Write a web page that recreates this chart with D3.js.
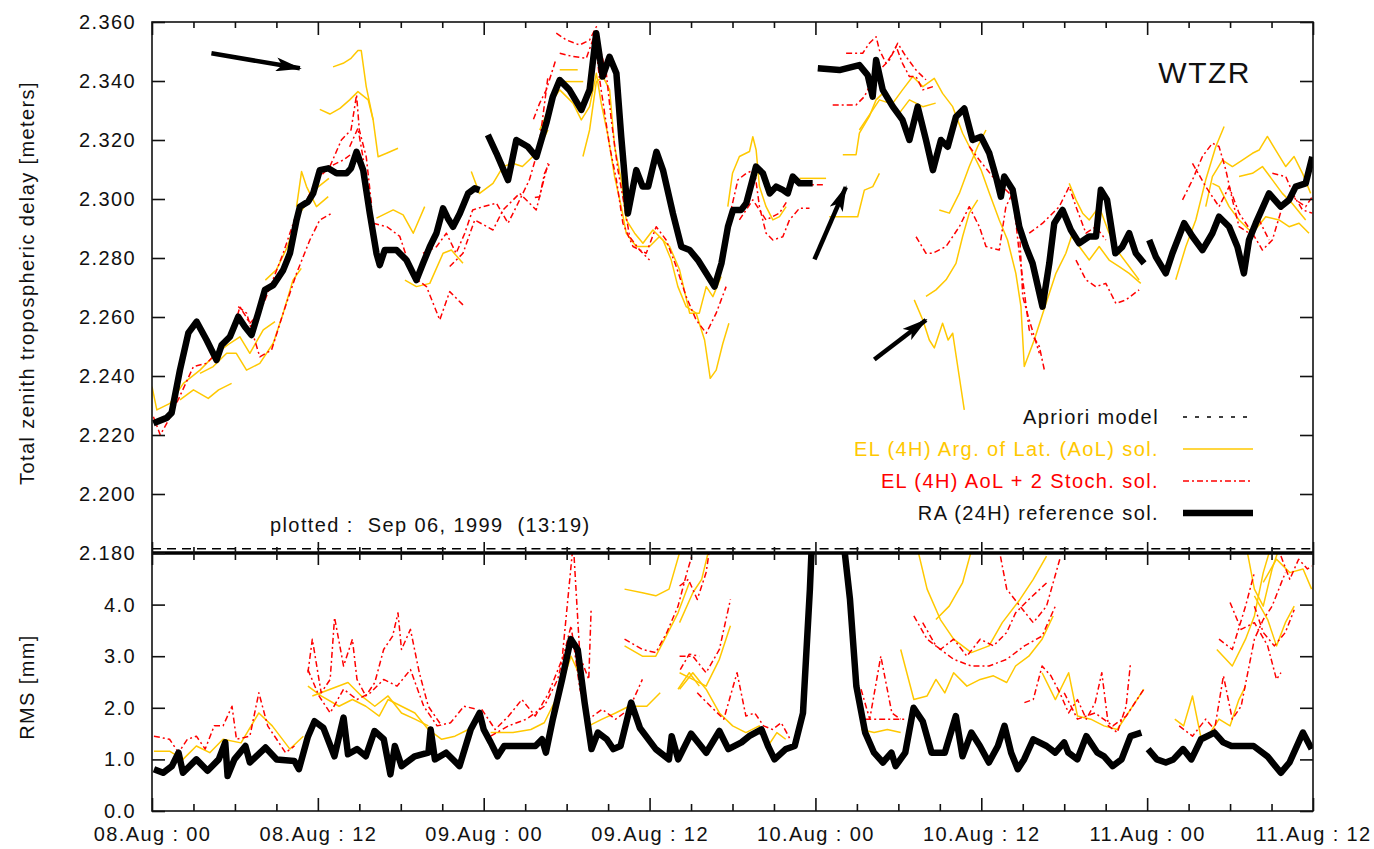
<!DOCTYPE html>
<html>
<head>
<meta charset="utf-8">
<script src="https://cdn.jsdelivr.net/npm/d3@7"></script>
<style>
  body { margin: 0; background: #fff; }
  svg { display: block; font-family: "Liberation Sans", Arial, Helvetica, sans-serif; }
  .lbl { font-size: 20px; letter-spacing: 1.4px; fill: #111; }
</style>
</head>
<body>
<svg id="chart" width="1374" height="849"></svg>
<script>
// hours since 08.Aug 00:00
const xMajorHours = [0, 12, 24, 36, 48, 60, 72, 84]
const xTickLabels = ['08.Aug : 00', '08.Aug : 12', '09.Aug : 00', '09.Aug : 12',
  '10.Aug : 00', '10.Aug : 12', '11.Aug : 00', '11.Aug : 12']
const delayTicks = [2.18, 2.20, 2.22, 2.24, 2.26, 2.28, 2.30, 2.32, 2.34, 2.36]
const rmsTicks = [0, 1, 2, 3, 4]

// RA (24H) reference solution, [hour, meters]
const raDelay = [
  [[0.1,2.224],[1.06,2.2258],[1.42,2.2275],[2.02,2.242],[2.63,2.2546],[3.23,2.2584],[3.95,2.2522],[4.67,2.2454],[5.04,2.2505],[5.64,2.2533],[6.24,2.2601],[6.72,2.2567],[7.2,2.2539],[7.69,2.2614],[8.17,2.2692],[8.77,2.2708],[9.49,2.2759],[9.98,2.2816],[10.46,2.2929],[10.7,2.2974],[11.3,2.2991],[11.66,2.3019],[12.14,2.3098],[12.75,2.3104],[13.35,2.3087],[14.07,2.3087],[14.4,2.3104],[14.8,2.316],[15.28,2.3098],[15.76,2.2951],[16.24,2.2816],[16.48,2.2776],[16.84,2.2827],[17.69,2.2827],[18.41,2.2793],[19.13,2.2725],[19.61,2.2782],[20.1,2.2838],[20.58,2.2884],[21.06,2.2968],[21.4,2.2935],[21.78,2.2906],[22.27,2.2951],[22.87,2.3019],[23.35,2.3036],[23.7,2.303]],
  [[24.3,2.3217],[24.92,2.3155],[25.76,2.3064],[26.36,2.32],[27.2,2.3177],[27.81,2.3143],[28.53,2.3257],[29.0,2.3347],[29.5,2.3403],[30.2,2.337],[31.06,2.3302],[31.66,2.337],[32.14,2.3562],[32.6,2.3415],[33.1,2.3482],[33.6,2.3426],[33.95,2.3211],[34.43,2.2951],[35.04,2.3098],[35.5,2.3042],[35.9,2.3042],[36.5,2.316],[36.97,2.3098],[37.69,2.2951],[38.3,2.2838],[38.9,2.2827],[39.5,2.2793],[40.1,2.2748],[40.7,2.2703],[41.2,2.2782],[41.67,2.2906],[42.04,2.2963],[42.63,2.2963],[43.0,2.2986],[43.7,2.311],[44.2,2.3087],[44.7,2.3019],[45.16,2.3042],[45.64,2.3031],[46.0,2.3019],[46.36,2.3076],[46.85,2.3053],[47.8,2.3053]],
  [[48.17,2.3443],[49.74,2.3437],[51.18,2.3454],[51.78,2.342],[52.14,2.3347],[52.39,2.3471],[52.87,2.337],[53.6,2.3313],[54.3,2.3268],[54.8,2.32],[55.4,2.3313],[56.0,2.32],[56.5,2.3098],[57.08,2.32],[57.57,2.3177],[58.17,2.3279],[58.77,2.3307],[59.37,2.32],[59.98,2.3211],[60.58,2.3155],[61.06,2.3076],[61.42,2.3008],[61.66,2.3076],[62.27,2.3031],[62.75,2.2906],[63.23,2.2838],[63.71,2.2782],[64.43,2.2635],[64.92,2.2782],[65.28,2.2918],[65.88,2.2963],[66.48,2.2895],[67.08,2.285],[67.8,2.2873],[68.3,2.2873],[68.65,2.3031],[69.1,2.2997],[69.7,2.2816],[70.2,2.2838],[70.7,2.2884],[71.18,2.2816],[71.78,2.2782]],
  [[72.15,2.2861],[72.63,2.2804],[73.35,2.2748],[73.83,2.2816],[74.68,2.2918],[75.28,2.2873],[76.0,2.2827],[76.72,2.2884],[77.2,2.294],[77.93,2.2906],[78.53,2.2838],[79.0,2.2748],[79.37,2.2861],[79.86,2.2918],[80.82,2.3019],[81.66,2.2974],[82.27,2.2997],[82.75,2.3042],[83.47,2.3053],[83.95,2.3143]]
]

// EL (4H) Arg. of Lat. solutions
const aolDelay = [
  [[0,2.2364],[0.35,2.2285],[1.3,2.2307],[2.27,2.2375],[3.47,2.242],[4.67,2.2477],[5.64,2.2511],[6.36,2.2533],[7.08,2.2477],[8.05,2.2556],[8.9,2.2584]],
  [[2.02,2.2319],[3.0,2.2353],[4.07,2.2324],[4.82,2.2353],[5.76,2.2375]],
  [[3.47,2.2409],[4.43,2.2432],[5.4,2.2477],[6.1,2.2477],[6.84,2.242],[7.8,2.2443],[8.77,2.2511],[9.49,2.2613],[10.2,2.2725],[10.8,2.2765]],
  [[8.2,2.2725],[9.0,2.276],[9.8,2.2838],[10.5,2.294],[11.2,2.2985],[12.0,2.304],[12.8,2.307]],
  [[10.46,2.2974],[10.82,2.3093],[11.18,2.3042],[11.9,2.2974],[12.75,2.3008]],
  [[13.1,2.3448],[13.83,2.346],[14.4,2.3477],[14.9,2.3503],[15.14,2.3503],[15.5,2.3381],[16.0,2.3268],[16.36,2.3143],[16.97,2.3155],[17.8,2.3172]],
  [[12.14,2.3304],[12.87,2.3288],[13.6,2.3307],[14.3,2.3336],[14.9,2.3364],[15.64,2.3336],[16.0,2.3268]],
  [[16.24,2.2935],[17.45,2.2963],[18.17,2.2946],[18.9,2.2884],[19.73,2.2974]],
  [[18.3,2.2725],[19.13,2.2703],[20.1,2.2714],[21.06,2.2816],[21.66,2.2827],[22.5,2.2782]],
  [[23.1,2.3093],[23.7,2.3019],[24.67,2.3053],[25.4,2.311],[26.1,2.3121],[26.8,2.311],[27.8,2.3155],[28.65,2.3234]],
  [[29.5,2.3438],[30.8,2.3438]],
  [[29.7,2.3398],[31.2,2.3398]],
  [[31.18,2.3144],[31.66,2.3234],[32.15,2.3398],[32.63,2.3415],[33.11,2.337],[33.47,2.3178],[33.95,2.3065],[34.31,2.2929],[34.92,2.2884],[35.52,2.285],[36.24,2.2895],[36.97,2.2861],[37.57,2.2793],[38.05,2.2703],[38.65,2.2635],[39.37,2.2613],[39.98,2.2522],[40.39,2.2392],[40.82,2.242],[41.3,2.251],[41.74,2.2579]],
  [[28.05,2.3234],[29.0,2.3336],[29.5,2.337],[30.46,2.3325],[31.06,2.3268],[31.66,2.3313],[32.15,2.3426],[32.5,2.3325],[33.0,2.3212],[33.47,2.3076],[33.95,2.2974],[34.31,2.2884],[35.04,2.2839],[36.0,2.2839],[36.7,2.2872],[37.45,2.2839],[38.17,2.276],[38.9,2.2613],[39.6,2.2613],[40.1,2.2703],[40.58,2.2669],[41.18,2.2737]],
  [[41.66,2.2974],[42.0,2.3087],[42.5,2.3144],[43.23,2.3161],[43.47,2.3211],[43.71,2.3166],[43.95,2.3042],[44.43,2.2974],[44.92,2.2929],[45.4,2.294],[45.88,2.2974]],
  [[46.85,2.307],[48.77,2.307]],
  [[49.0,2.294],[51.06,2.294],[51.54,2.303],[52.15,2.3042],[52.63,2.3087]],
  [[49.98,2.315],[50.94,2.315],[51.18,2.3223],[51.9,2.328],[52.39,2.3336],[52.87,2.3358],[53.6,2.3325],[54.3,2.337],[55.04,2.3415],[55.77,2.3381],[56.6,2.3409],[57.2,2.3358],[57.93,2.3313],[58.65,2.3223],[59.38,2.3155],[59.98,2.3099],[60.58,2.302],[61.3,2.2929],[61.9,2.2861],[62.5,2.2748],[62.87,2.2635],[63.11,2.2432],[63.83,2.2522],[64.68,2.2646],[65.4,2.2748],[66.12,2.2816],[66.6,2.2884],[67.09,2.2839],[67.81,2.2793],[68.53,2.2839],[69.25,2.2793],[69.98,2.2771],[70.7,2.2748],[71.54,2.2714]],
  [[51.18,2.3234],[52.15,2.3302],[52.63,2.3336],[53.35,2.3325],[54.07,2.3291],[54.8,2.3336],[55.77,2.3313],[56.7,2.3325]],
  [[55.15,2.2658],[55.77,2.259],[56.24,2.2522],[56.6,2.2495],[57.2,2.2579],[57.6,2.2522],[57.93,2.2545],[58.4,2.24],[58.77,2.2285]],
  [[56.0,2.267],[56.72,2.2692],[57.45,2.2726],[58.17,2.2782],[58.65,2.2873],[59.13,2.2952],[59.74,2.2997]],
  [[56.96,2.2963],[57.69,2.2952],[58.41,2.3019],[59.13,2.311],[59.74,2.3178],[60.34,2.3234]],
  [[66.36,2.3053],[66.85,2.2997],[67.33,2.2952],[67.81,2.2929],[68.53,2.2974],[69.25,2.2884],[69.98,2.2816],[70.7,2.2771],[71.42,2.2726]],
  [[74.07,2.2726],[74.8,2.2839],[75.52,2.2929],[76.24,2.3065],[76.97,2.3178],[77.57,2.3246]],
  [[76.24,2.2974],[76.72,2.3076],[77.45,2.3132],[78.17,2.311],[78.89,2.3132],[79.62,2.3155],[80.1,2.3166],[80.7,2.3212],[81.3,2.3166],[82.03,2.311],[82.63,2.3144],[83.24,2.3087],[83.83,2.3019]],
  [[76.72,2.3053],[77.2,2.3042],[77.93,2.2974],[78.65,2.2929],[79.62,2.2884],[80.58,2.294],[81.54,2.2929],[82.27,2.2906],[82.99,2.2918],[83.71,2.2884]],
  [[78.65,2.3076],[79.62,2.3087],[80.34,2.311],[81.06,2.3065],[81.78,2.3019],[82.5,2.2985],[83.47,2.2929]]
]

// EL (4H) AoL + 2 Stoch. solutions
const stochDelay = [
  [[0.1,2.2262],[0.6,2.22],[1.2,2.2251],[2.0,2.233],[3.0,2.2432],[3.95,2.2443],[4.9,2.2488],[5.76,2.2533],[6.36,2.2635],[7.08,2.2579],[7.8,2.2613],[8.65,2.2714],[9.49,2.2816],[10.46,2.2951],[11.2,2.2997],[11.9,2.3064],[12.87,2.311],[13.83,2.3132],[14.5,2.3155]],
  [[6.24,2.2635],[6.84,2.2613],[7.8,2.2465],[8.65,2.2488],[9.49,2.2613],[10.46,2.2748],[11.42,2.2861],[12.14,2.2929],[12.99,2.2951]],
  [[12.87,2.311],[13.7,2.32],[14.4,2.3234],[14.8,2.3353],[15.0,2.3234],[15.5,2.3143],[15.9,2.2974]],
  [[14.3,2.3177],[14.9,2.324],[15.3,2.3132]],
  [[16.0,2.2918],[17.0,2.2906],[17.93,2.2873],[18.9,2.2737],[19.86,2.2703],[20.82,2.259],[21.54,2.2686],[22.63,2.2635]],
  [[19.61,2.2816],[20.58,2.2838],[21.3,2.2884],[22.0,2.2816],[22.63,2.2884],[23.2,2.2963],[23.95,2.2974],[24.92,2.2986],[25.76,2.2918],[26.36,2.2974],[27.3,2.3064],[28.0,2.3177],[28.65,2.3415]],
  [[21.54,2.2771],[22.5,2.2816],[23.35,2.2929],[24.67,2.2895],[25.4,2.2963],[26.6,2.3019],[27.8,2.2963],[28.65,2.3121]],
  [[29.25,2.3562],[29.98,2.3539],[30.94,2.3522],[31.66,2.3539],[32.15,2.3584],[32.5,2.3494],[32.87,2.3426],[33.23,2.3268],[33.71,2.3099],[34.19,2.2974],[34.56,2.2872],[35.28,2.2827],[36.0,2.2793]],
  [[29.5,2.3494],[30.46,2.3483],[31.42,2.3477],[32.02,2.3556],[32.39,2.3404],[32.75,2.3291],[33.11,2.3178],[33.6,2.3065],[34.07,2.2918],[34.8,2.2839],[35.76,2.2816],[36.48,2.2906],[37.2,2.2861],[37.93,2.2771],[38.65,2.2669],[39.37,2.259],[40.1,2.2545],[40.82,2.2613],[41.54,2.2703]],
  [[27.6,2.327],[28.05,2.3325],[28.53,2.337],[29.2,2.347]],
  [[27.7,2.3005],[28.05,2.3008],[28.4,2.3087],[28.77,2.3121]],
  [[41.78,2.294],[42.39,2.3065],[42.99,2.3087],[43.59,2.3099],[43.95,2.2974],[44.43,2.2884],[44.92,2.2861],[45.64,2.2872],[46.12,2.2929],[46.85,2.2969],[47.57,2.2969]],
  [[42.5,2.2929],[43.47,2.2997],[44.43,2.2929],[45.4,2.2952],[46.0,2.2997]],
  [[47.09,2.3048],[48.65,2.3048]],
  [[49.25,2.3319],[50.94,2.3319],[51.54,2.3347],[52.15,2.3404],[52.63,2.3437],[53.35,2.3471],[53.84,2.3517],[54.3,2.346],[54.8,2.3415],[55.28,2.3415],[55.77,2.337],[56.5,2.3381]],
  [[50.22,2.3494],[51.42,2.3494],[51.9,2.3528],[52.39,2.355],[52.63,2.3505],[53.11,2.346],[53.6,2.3494],[53.95,2.3528],[54.55,2.3483],[55.28,2.3437],[56.0,2.3404]],
  [[55.28,2.2872],[56.0,2.2816],[56.48,2.2816],[57.45,2.2839],[58.41,2.2906],[59.13,2.2974],[59.86,2.2906],[60.34,2.2839],[61.3,2.2827],[61.78,2.2974],[62.27,2.302],[62.75,2.2816],[63.47,2.2556],[64.2,2.25],[64.56,2.2421]],
  [[59.13,2.3178],[59.86,2.3132],[60.82,2.3076],[61.54,2.3042],[62.27,2.3008],[62.75,2.2906],[63.0,2.2669],[63.47,2.259],[64.2,2.2477]],
  [[63.47,2.2884],[64.44,2.2918],[65.64,2.2974],[66.36,2.3042],[66.85,2.2974],[67.57,2.2884],[68.29,2.2906],[69.01,2.2861]],
  [[66.85,2.2793],[67.57,2.2726],[68.29,2.2703],[69.01,2.2714],[69.74,2.2646],[70.46,2.2658],[71.42,2.2692]],
  [[74.56,2.2997],[75.28,2.3065],[76.0,2.3144],[76.72,2.3189],[77.2,2.3178],[77.69,2.3099],[78.17,2.2997],[78.65,2.2906],[79.38,2.2884],[80.1,2.2929],[80.82,2.2861]],
  [[75.28,2.3121],[76.24,2.3042],[77.2,2.2974],[77.93,2.3042],[78.65,2.2952],[79.62,2.2884],[80.34,2.2827],[81.06,2.2861],[81.78,2.2974],[82.5,2.302],[83.24,2.2963],[83.95,2.2952]],
  [[81.06,2.3087],[82.03,2.3076],[82.75,2.2997],[83.47,2.2974],[83.95,2.3008]]
]

const aprioriDelay = [
  [[0,2.1814],[23.8,2.1814]],
  [[24.2,2.1814],[47.8,2.1814]],
  [[48.3,2.1814],[71.8,2.1814]],
  [[72.3,2.1814],[84,2.1814]]
]

// RMS [mm]
const raRms = [
  [[0.14,0.81],[0.8,0.74],[1.44,0.87],[1.92,1.13],[2.24,0.74],[3.21,1.0],[4.02,0.78],[4.83,1.0],[5.3,1.33],[5.47,0.68],[5.96,1.0],[6.76,1.26],[7.08,0.94],[8.21,1.23],[9.02,1.0],[10.3,0.97],[10.63,0.81],[11.28,1.44],[11.76,1.74],[12.4,1.61],[13.2,1.06],[13.86,1.81],[14.18,1.1],[14.83,1.2],[15.47,1.06],[16.1,1.55],[16.77,1.39],[17.25,0.71],[17.57,1.26],[18.06,0.87],[19.0,1.06],[20.0,1.13],[20.16,1.58],[20.47,1.0],[21.28,1.13],[22.25,0.87],[23.06,1.58],[23.7,1.9],[24.0,1.58],[24.5,1.33],[25.0,1.06],[25.48,1.26],[26.77,1.26],[27.74,1.26],[28.22,1.39],[28.5,1.13],[29.0,1.78],[29.67,2.55],[30.3,3.33],[30.8,3.13],[31.3,2.1],[31.8,1.2],[32.26,1.52],[32.9,1.39],[33.38,1.2],[33.9,1.26],[34.67,2.1],[35.3,1.61],[36.45,1.2],[37.4,1.0],[37.6,1.45],[38.07,1.0],[39.0,1.5],[39.6,1.3],[40.1,1.13],[41.05,1.55],[41.7,1.2],[42.65,1.33],[43.2,1.45],[44.1,1.58],[44.57,1.26],[45.04,1.0],[45.85,1.2],[46.5,1.26],[47.1,1.9],[47.6,4.3],[47.76,5.3],[50.0,5.3],[50.5,4.1],[50.96,2.42],[51.6,1.52],[52.24,1.13],[52.88,0.94],[53.5,1.13],[53.8,0.87],[54.5,1.13],[55.1,2.0],[55.76,1.74],[56.4,1.13],[57.36,1.13],[58.16,1.84],[58.64,1.06],[59.28,1.52],[59.9,1.26],[60.55,0.94],[61.2,1.26],[61.68,1.65],[62.16,1.13],[62.64,0.81],[63.1,1.0],[63.76,1.39],[64.72,1.26],[65.35,1.13],[66.0,1.33],[66.3,1.13],[66.95,1.0],[67.6,1.45],[68.4,1.13],[68.88,1.06],[69.5,0.87],[70.15,1.0],[70.8,1.45],[71.58,1.52]],
  [[72.07,1.2],[72.7,1.0],[73.35,0.94],[73.9,1.0],[74.6,1.2],[75.2,1.0],[75.9,1.39],[76.87,1.52],[77.5,1.33],[78.1,1.26],[78.9,1.26],[79.7,1.26],[80.7,1.06],[81.67,0.74],[82.3,0.94],[83.27,1.52],[83.9,1.2]]
]

const aolRms = [
  [[0.14,1.16],[1.27,1.16],[2.24,1.0],[3.21,1.26],[4.18,1.13],[5.14,1.39],[6.44,1.32],[7.73,1.9],[8.7,1.65],[9.98,1.2],[10.95,1.45]],
  [[11.28,2.42],[12.24,2.23],[13.53,2.03],[14.5,2.16],[15.47,2.03],[16.44,1.84],[17.08,2.16],[18.05,2.03],[19.02,1.9],[19.99,1.58],[20.96,1.39],[21.92,1.45],[22.89,1.58]],
  [[11.6,2.23],[12.89,2.36],[14.18,2.49],[15.15,2.23],[16.12,2.03],[17.08,2.23],[18.05,1.9],[19.02,1.78],[19.99,1.65]],
  [[24.5,1.52],[26.12,1.52],[27.41,1.58],[28.38,1.71],[29.35,2.23],[30.32,3.0],[30.96,2.62],[31.6,1.65],[32.57,1.78],[33.54,1.9],[34.51,2.03],[35.8,2.03],[36.77,2.29]],
  [[34.19,4.3],[35.48,4.23],[36.45,4.17],[37.41,4.3],[38.38,5.2]],
  [[34.19,3.2],[35.48,3.0],[36.45,3.0],[37.09,3.33],[38.06,3.84],[38.87,4.42]],
  [[38.17,3.65],[39.13,4.23],[39.77,4.49],[40.41,5.2]],
  [[38.06,2.36],[38.87,2.68],[39.6,2.42]],
  [[38.17,2.68],[39.13,2.55],[40.09,2.42],[41.05,2.94],[41.85,3.59]],
  [[38.17,2.36],[39.13,2.68],[40.09,2.36],[41.05,1.9],[42.01,1.65],[42.97,1.52],[43.93,1.65],[44.57,1.26],[45.21,1.52],[45.85,1.39]],
  [[51.3,1.58],[52.25,1.52],[53.2,1.58],[54.17,1.52]],
  [[54.17,3.13],[55.12,2.16],[56.08,2.23],[56.72,2.55],[57.36,2.29],[58.0,2.68],[58.96,2.42],[59.92,2.55],[60.88,2.62],[61.84,2.49],[62.48,2.81],[63.44,3.0],[64.4,3.33],[65.2,3.78]],
  [[55.28,5.2],[56.08,4.3],[57.04,3.71],[58.0,3.33],[59.28,3.07],[60.56,3.2],[61.52,3.65],[62.8,4.1],[63.76,4.49],[64.72,4.94]],
  [[56.72,3.71],[57.68,3.97],[58.64,4.42],[59.44,5.2]],
  [[64.4,2.68],[65.36,2.16],[66.32,2.68],[66.96,1.84],[67.92,1.78],[68.88,1.65],[69.84,1.58],[70.8,1.97],[71.76,2.36]],
  [[74.0,1.78],[74.64,1.65],[75.28,2.23],[75.92,1.39],[76.56,1.52],[77.2,1.78],[78.0,1.65],[78.64,2.16],[79.12,2.42]],
  [[77.04,3.13],[78.16,2.81],[79.12,3.33],[79.76,3.78],[80.4,4.62],[81.04,5.2]],
  [[79.76,4.17],[80.72,3.71],[81.36,3.2],[82.0,3.65],[82.64,3.97]],
  [[80.4,4.43],[81.36,4.88],[82.32,4.62],[83.28,4.69],[83.9,4.3]],
  [[79.12,5.2],[79.76,4.3],[80.4,3.97],[81.04,4.69],[81.68,5.2]]
]

const stochRms = [
  [[0.14,1.45],[1.27,1.39],[1.92,1.13],[2.56,1.39],[3.21,1.45],[3.85,1.2],[4.5,1.65],[5.14,1.65],[5.79,2.03],[6.11,1.39],[7.08,1.45],[7.73,2.29],[8.37,1.65],[9.02,1.39],[9.66,1.13],[10.31,1.26]],
  [[11.28,2.68],[11.6,3.33],[12.24,2.29],[12.89,2.55],[13.21,3.75],[13.86,2.81],[14.5,3.33],[14.83,2.55],[15.47,2.23],[16.12,2.49],[16.76,3.13],[17.41,3.39],[17.8,3.84],[18.05,3.13],[18.7,3.52],[19.34,2.68],[19.99,2.03],[20.96,1.65]],
  [[11.28,2.74],[12.08,2.23],[12.89,1.9],[13.86,2.36],[14.83,2.16],[15.8,2.29],[16.76,2.55],[17.73,2.42],[18.7,2.74],[19.66,2.03],[20.63,1.65],[21.6,1.71],[22.57,2.03],[23.54,1.97]],
  [[23.86,1.97],[24.83,1.58],[25.8,1.84],[26.76,2.16],[27.73,1.84],[28.7,2.29],[29.67,2.94],[30.48,5.2],[30.96,3.0],[31.6,2.55],[31.77,3.9]],
  [[24.5,1.45],[25.8,1.65],[27.09,1.78],[28.38,2.03],[29.35,2.55],[30.32,3.59],[30.96,2.36],[31.6,1.78],[32.57,1.97],[33.54,1.78],[34.51,1.97],[35.48,2.55]],
  [[34.19,3.33],[35.48,3.13],[36.45,3.07],[37.25,3.46],[38.06,3.97],[38.7,4.62],[39.35,5.2]],
  [[38.22,2.74],[38.87,3.04],[39.6,3.0]],
  [[38.17,4.36],[38.81,4.49],[39.45,4.1],[40.09,4.62],[40.41,5.2]],
  [[38.17,3.0],[39.13,3.0],[40.09,2.68],[41.05,3.13],[41.85,4.1]],
  [[39.45,2.29],[40.41,2.03],[41.37,1.78],[42.33,2.68],[42.97,1.84],[43.61,1.9],[44.25,1.65],[44.89,1.58],[45.53,1.71],[46.17,1.39]],
  [[51.3,2.36],[51.93,1.78],[52.73,3.0],[53.53,1.9],[54.17,1.78]],
  [[51.6,1.78],[53.2,1.78],[54.5,1.78]],
  [[55.12,3.78],[56.08,3.33],[57.04,3.13],[58.0,3.33],[58.96,3.0],[59.92,3.33],[60.88,3.2],[61.84,3.46],[62.48,3.84],[63.44,4.1],[64.72,4.42]],
  [[61.2,5.2],[61.84,4.3],[62.8,3.97],[63.76,3.65],[64.72,3.97],[65.68,4.88]],
  [[55.76,3.65],[56.72,3.2],[58.0,2.94],[59.28,2.81],[60.56,2.81],[61.84,2.94],[63.12,3.2],[64.4,3.39],[65.36,3.97]],
  [[63.12,2.1],[63.76,2.16],[64.4,2.81],[65.04,2.62],[65.68,2.29],[66.32,1.9],[66.96,2.16],[67.6,1.78],[68.24,2.1],[68.72,2.68],[69.2,1.65],[69.84,1.52],[70.48,2.03],[70.8,2.88]],
  [[66.0,2.29],[66.96,1.78],[68.24,1.9],[69.52,1.65],[70.48,1.84],[71.44,2.23],[71.76,2.36]],
  [[74.32,1.65],[75.28,1.45],[76.24,1.78],[76.88,1.58],[77.52,2.62],[78.16,1.78],[78.8,2.03],[79.28,2.68],[79.76,3.33],[80.4,3.71],[81.04,3.97],[82.0,4.62]],
  [[77.2,3.33],[78.16,3.13],[79.12,3.97],[79.76,4.62]],
  [[78.0,4.04],[78.8,3.52],[79.76,3.65],[80.72,3.2],[81.36,2.55],[81.68,2.68]],
  [[79.76,3.97],[80.4,3.46],[81.2,3.2],[82.0,3.46],[82.64,3.9]],
  [[81.68,4.94],[82.32,4.49],[82.96,4.88],[83.6,4.69],[83.9,4.75]]
]

// annotation arrows in data units: [tail, head]
const arrows = [
  [[4.3, 2.3494], [10.7, 2.3443]],
  [[47.93, 2.2795], [50.2, 2.304]],
  [[52.26, 2.2456], [56.0, 2.259]]
]

const legendLabels = ['Apriori model', 'EL (4H) Arg. of Lat. (AoL) sol.',
  'EL (4H) AoL + 2 Stoch. sol.', 'RA (24H) reference sol.']

const YELLOW = '#ffc800'
const RED = '#ff0000'

const left = 152
const right = 1313
const topY = 22
const midY = 553
const bottomY = 811

const svg = d3.select('#chart')

const x = d3.scaleLinear().domain([0, 84]).range([left, right])
const yDelay = d3.scaleLinear().domain([2.18, 2.36]).range([midY, topY])
const yRms = d3.scaleLinear().domain([0, 5]).range([bottomY, midY])

const defs = svg.append('defs')
defs.append('clipPath').attr('id', 'clipTop')
  .append('rect').attr('x', left).attr('y', topY).attr('width', right - left).attr('height', midY - topY)
defs.append('clipPath').attr('id', 'clipBot')
  .append('rect').attr('x', left).attr('y', midY).attr('width', right - left).attr('height', bottomY - midY)
defs.append('marker')
  .attr('id', 'head')
  .attr('markerUnits', 'userSpaceOnUse')
  .attr('viewBox', '0 0 26 14')
  .attr('markerWidth', 26)
  .attr('markerHeight', 14)
  .attr('refX', 24)
  .attr('refY', 7)
  .attr('orient', 'auto')
  .append('path')
  .attr('d', 'M0,0 L26,7 L0,14 L6,7 Z')
  .attr('fill', '#000')

const styles = {
  aol: { stroke: YELLOW, width: 1.5, dash: null },
  stoch: { stroke: RED, width: 1.5, dash: '6,3,2,3' },
  apriori: { stroke: '#000', width: 1.5, dash: '9,6' },
  ra: { stroke: '#000', width: 6.5, dash: null }
}

function drawSeries (g, segments, yScale, style) {
  const line = d3.line().x(d => x(d[0])).y(d => yScale(d[1]))
  g.append('g')
    .selectAll('path')
    .data(segments)
    .join('path')
    .attr('d', line)
    .attr('fill', 'none')
    .attr('stroke', style.stroke)
    .attr('stroke-width', style.width)
    .attr('stroke-dasharray', style.dash)
    .attr('stroke-linejoin', 'round')
}

const topPanel = svg.append('g').attr('clip-path', 'url(#clipTop)')
drawSeries(topPanel, aolDelay, yDelay, styles.aol)
drawSeries(topPanel, stochDelay, yDelay, styles.stoch)
drawSeries(topPanel, raDelay, yDelay, styles.ra)

const botPanel = svg.append('g').attr('clip-path', 'url(#clipBot)')
drawSeries(botPanel, aolRms, yRms, styles.aol)
drawSeries(botPanel, stochRms, yRms, styles.stoch)
drawSeries(botPanel, raRms, yRms, styles.ra)

// apriori sits right on the lower edge of the top panel
drawSeries(svg, aprioriDelay, yDelay, styles.apriori)

// frames
svg.append('rect').attr('x', left).attr('y', topY).attr('width', right - left).attr('height', bottomY - topY)
  .attr('fill', 'none').attr('stroke', '#111').attr('stroke-width', 1.6)
svg.append('line').attr('x1', left).attr('x2', right).attr('y1', midY).attr('y2', midY)
  .attr('stroke', '#000').attr('stroke-width', 3.5)

function axisGroup (axis, transform) {
  const g = svg.append('g').attr('transform', transform).call(axis)
  g.attr('font-size', null).attr('font-family', null)
  g.select('.domain').remove()
  g.selectAll('.tick line').attr('stroke', '#111').attr('stroke-width', 1.6)
  g.selectAll('.tick text').attr('class', 'lbl').attr('fill', null)
  return g
}

const minorHours = d3.range(0, 85, 3).filter(h => h % 12 !== 0)
const noLabel = () => ''

// x ticks: top border, both sides of the middle border, bottom border
axisGroup(d3.axisTop(x).tickValues(xMajorHours).tickSize(-13).tickFormat(noLabel), `translate(0,${topY})`)
axisGroup(d3.axisTop(x).tickValues(minorHours).tickSize(-6).tickFormat(noLabel), `translate(0,${topY})`)
axisGroup(d3.axisBottom(x).tickValues(xMajorHours).tickSize(-11).tickFormat(noLabel), `translate(0,${midY})`)
axisGroup(d3.axisBottom(x).tickValues(minorHours).tickSize(-6).tickFormat(noLabel), `translate(0,${midY})`)
axisGroup(d3.axisTop(x).tickValues(xMajorHours).tickSize(-12).tickFormat(noLabel), `translate(0,${midY})`)
axisGroup(d3.axisTop(x).tickValues(minorHours).tickSize(-7).tickFormat(noLabel), `translate(0,${midY})`)
axisGroup(d3.axisBottom(x).tickValues(minorHours).tickSize(-7).tickFormat(noLabel), `translate(0,${bottomY})`)
axisGroup(d3.axisBottom(x).tickValues(xMajorHours).tickSize(-13).tickPadding(16)
  .tickFormat((d, i) => xTickLabels[i]), `translate(0,${bottomY})`)

// y ticks
axisGroup(d3.axisLeft(yDelay).tickValues(delayTicks).tickSize(-13).tickPadding(16)
  .tickFormat(d3.format('.3f')), `translate(${left},0)`)
axisGroup(d3.axisRight(yDelay).tickValues(delayTicks).tickSize(-13).tickFormat(noLabel), `translate(${right},0)`)
axisGroup(d3.axisLeft(yRms).tickValues(rmsTicks).tickSize(-13).tickPadding(16)
  .tickFormat(d3.format('.1f')), `translate(${left},0)`)
axisGroup(d3.axisRight(yRms).tickValues(rmsTicks).tickSize(-13).tickFormat(noLabel), `translate(${right},0)`)

// axis titles
svg.append('text').attr('class', 'lbl')
  .attr('transform', 'translate(34,283) rotate(-90)')
  .attr('text-anchor', 'middle')
  .text('Total zenith tropospheric delay [meters]')
svg.append('text').attr('class', 'lbl')
  .attr('transform', 'translate(34,687) rotate(-90)')
  .attr('text-anchor', 'middle')
  .text('RMS [mm]')

// station name and plot stamp
svg.append('text')
  .attr('x', 1251).attr('y', 83)
  .attr('text-anchor', 'end')
  .attr('font-size', 30)
  .attr('letter-spacing', 1.5)
  .attr('fill', '#111')
  .text('WTZR')
svg.append('text').attr('class', 'lbl')
  .attr('x', 270).attr('y', 532)
  .style('white-space', 'pre')
  .text('plotted :  Sep 06, 1999  (13:19)')

// legend
const legendStyles = [styles.apriori, styles.aol, styles.stoch, styles.ra]
const legendColors = ['#111', YELLOW, RED, '#111']
const legend = svg.append('g')
legendLabels.forEach((label, i) => {
  const base = 424 + i * 32
  legend.append('text').attr('class', 'lbl')
    .attr('x', 1159).attr('y', base)
    .attr('text-anchor', 'end')
    .style('fill', legendColors[i])
    .text(label)
  legend.append('line')
    .attr('x1', 1183).attr('x2', 1253)
    .attr('y1', base - 7).attr('y2', base - 7)
    .attr('stroke', legendStyles[i].stroke)
    .attr('stroke-width', legendStyles[i].width)
    .attr('stroke-dasharray', i === 0 ? '4,8' : legendStyles[i].dash)
})

// arrows
svg.append('g')
  .selectAll('line')
  .data(arrows)
  .join('line')
  .attr('x1', d => x(d[0][0]))
  .attr('y1', d => yDelay(d[0][1]))
  .attr('x2', d => x(d[1][0]))
  .attr('y2', d => yDelay(d[1][1]))
  .attr('stroke', '#000')
  .attr('stroke-width', 4.5)
  .attr('marker-end', 'url(#head)')
</script>
</body>
</html>
